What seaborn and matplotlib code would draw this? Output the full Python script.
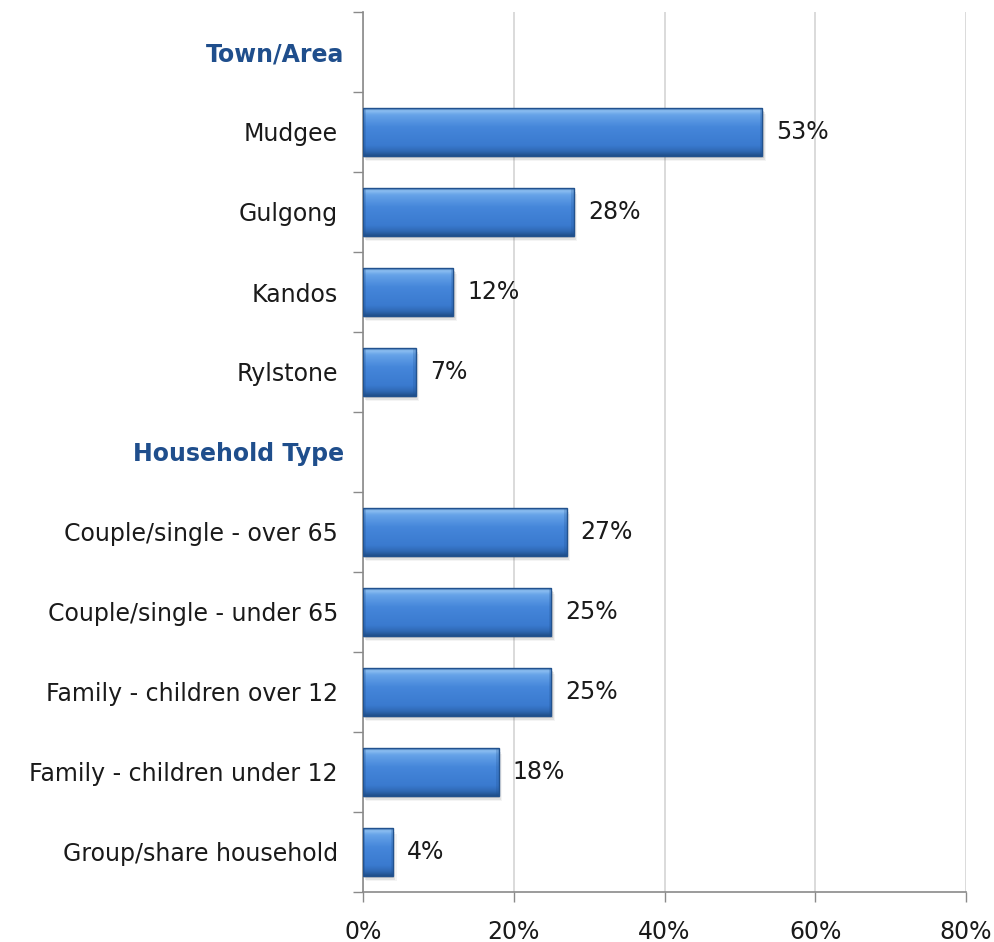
import numpy as np
import pandas as pd
import matplotlib
matplotlib.use("Agg")
import matplotlib.pyplot as plt
import seaborn as sns
from matplotlib.patches import Rectangle
from matplotlib.colors import LinearSegmentedColormap
from matplotlib.ticker import FuncFormatter, FixedLocator
from matplotlib.transforms import ScaledTranslation

# Survey results by respondent group (percent of respondents)
rows = ["Town/Area", "Mudgee", "Gulgong", "Kandos", "Rylstone",
        "Household Type", "Couple/single - over 65", "Couple/single - under 65",
        "Family - children over 12", "Family - children under 12",
        "Group/share household"]
headers = ["Town/Area", "Household Type"]
groups = ["Mudgee", "Gulgong", "Kandos", "Rylstone",
          "Couple/single - over 65", "Couple/single - under 65",
          "Family - children over 12", "Family - children under 12",
          "Group/share household"]
percents = [53, 28, 12, 7, 27, 25, 25, 18, 4]
x_ticks = [0, 20, 40, 60, 80]

df = pd.DataFrame({"group": groups, "pct": percents})

sns.set_theme(style="white")
plt.rcParams["font.family"] = ["DejaVu Sans"]
FS = 17

fig = plt.figure(figsize=(9.95, 9.42), dpi=100)
ax = fig.add_axes([363 / 995, 1 - 892 / 942, (966 - 363) / 995, (892 - 12) / 942])

sns.barplot(data=df, x="pct", y="group", order=rows, orient="h",
            color="#3C7DD0", width=0.59, ax=ax, errorbar=None, zorder=3)

ax.set_xlim(0, 80)
ax.set_ylim(len(rows) - 0.5, -0.5)

# Bevelled gradient fill for each bar
grad_cmap = LinearSegmentedColormap.from_list(
    "bevel",
    [(0.0, "#3468A8"), (0.05, "#8EC0F2"), (0.14, "#66A3E8"),
     (0.40, "#4586DA"), (0.78, "#3A7ACF"), (0.90, "#2F69B4"), (1.0, "#1F4E88")])
grad = np.linspace(0, 1, 256).reshape(-1, 1)
xl, yl = ax.get_xlim(), ax.get_ylim()
for p in list(ax.patches):
    x0, y0 = p.get_x(), p.get_y()
    w, h = p.get_width(), p.get_height()
    if not np.isfinite(w) or w <= 0:
        continue
    # soft drop shadow
    for k, a in enumerate([0.14, 0.09, 0.05]):
        sh = Rectangle((x0 + 0.15 + 0.15 * k, y0 + 0.03 + 0.02 * k), w, h,
                       facecolor="#303030", edgecolor="none", alpha=a, zorder=2)
        ax.add_patch(sh)
    img = ax.imshow(grad, cmap=grad_cmap, aspect="auto",
                    extent=(x0, x0 + w, y0 + h, y0), zorder=4,
                    interpolation="bicubic")
    img.set_clip_path(p)
    p.set_edgecolor("#22528E")
    p.set_linewidth(1.0)
    p.set_zorder(5)
    p.set_facecolor("none")
    # darker side edges
    edge = min(0.35, w * 0.08)
    for ex in (x0, x0 + w - edge):
        e = Rectangle((ex, y0), edge, h, facecolor="#1E4F8F", alpha=0.22,
                      edgecolor="none", zorder=4.5)
        ax.add_patch(e)
ax.set_xlim(xl)
ax.set_ylim(yl)

# Value labels
for g, v in zip(groups, percents):
    yi = rows.index(g)
    ax.annotate(f"{v}%", xy=(v, yi), xytext=(10, 0), textcoords="offset points",
                va="center", ha="left", fontsize=FS, color="#1a1a1a")

# Axes styling
ax.set_xlabel("")
ax.set_ylabel("")
ax.xaxis.set_major_locator(FixedLocator(x_ticks))
ax.xaxis.set_major_formatter(FuncFormatter(lambda v, _: f"{v:.0f}%"))
ax.tick_params(axis="x", direction="out", length=7, width=1, color="#8a8a8a",
               labelsize=FS, labelcolor="#1a1a1a", pad=13, bottom=True)
ax.grid(axis="x", color="#d4d4d4", linewidth=1.2, zorder=0)
ax.set_axisbelow(True)
ax.tick_params(axis="y", which="major", length=0, pad=18, labelsize=FS,
               labelcolor="#1a1a1a")
ax.set_yticks(np.arange(-0.5, len(rows), 1.0), minor=True)
ax.tick_params(axis="y", which="minor", direction="out", length=7, width=1,
               color="#8a8a8a", left=True)
shift = ScaledTranslation(6 / 100, 0, fig.dpi_scale_trans)
for lbl in ax.get_yticklabels():
    if lbl.get_text() in headers:
        lbl.set_fontweight("bold")
        lbl.set_color("#1F4E8C")
        lbl.set_transform(lbl.get_transform() + shift)

for side in ("top", "right"):
    ax.spines[side].set_visible(False)
for side in ("left", "bottom"):
    ax.spines[side].set_color("#8a8a8a")
    ax.spines[side].set_linewidth(1.2)

fig.savefig("out.png", dpi=100, facecolor="white")
